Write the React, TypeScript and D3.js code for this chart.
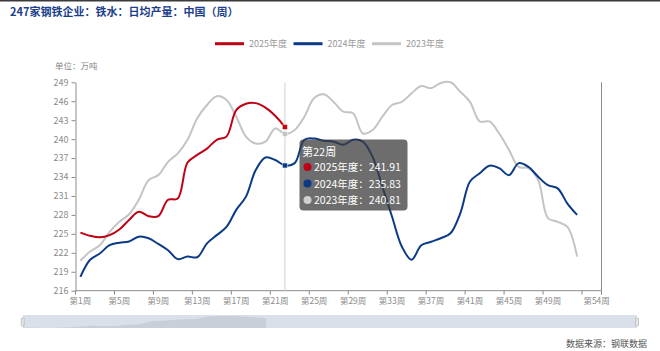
import * as d3 from "d3";
import { useEffect, useRef } from "react";

const categories = d3.range(1, 55).map((i) => `第${i}周`);
const tickLabels = ["第1周", "第5周", "第9周", "第13周", "第17周", "第21周", "第25周", "第29周", "第33周", "第37周", "第41周", "第45周", "第49周", "第54周"];
const yTicks = [216, 219, 222, 225, 228, 231, 234, 237, 240, 243, 246, 249];

const s2025 = [225.2, 224.7, 224.45, 224.8, 225.7, 227.2, 228.5, 227.8, 227.8, 230.4, 230.6, 236.3, 237.5, 238.5, 239.9, 240.4, 244.6, 245.6, 245.7, 245.0, 243.7, 241.91];
const s2024 = [218.2, 220.9, 221.9, 223.2, 223.6, 223.8, 224.55, 224.3, 223.4, 222.4, 221.0, 221.4, 221.3, 223.5, 224.8, 226.1, 228.8, 230.9, 235.1, 237.1, 236.7, 235.83, 236.2, 239.9, 240.1, 239.75, 239.6, 239.1, 239.9, 239.6, 237.2, 232.5, 227.7, 223.0, 220.9, 223.2, 223.75, 224.3, 225.1, 228.25, 233.3, 234.6, 235.8, 235.4, 234.3, 236.2, 235.6, 234.05, 232.7, 232.2, 229.8, 228.0];
const s2023 = [220.75, 222.2, 223.2, 225.3, 226.9, 228.1, 230.4, 233.5, 234.3, 236.4, 237.75, 239.9, 243.3, 245.4, 246.8, 246.2, 243.55, 240.4, 239.3, 239.6, 241.7, 240.81, 241.45, 243.55, 246.5, 247.1, 245.9, 244.35, 244.1, 240.9, 241.45, 243.55, 245.4, 245.9, 247.25, 248.4, 248.05, 248.9, 249.0, 247.5, 245.9, 242.8, 242.8, 240.9, 238.3, 235.6, 235.4, 233.5, 227.5, 226.9, 226.1, 221.4];

const seriesNames = ["2025年度", "2024年度", "2023年度"];
const seriesColors = ["#c00014", "#0b3a86", "#c4c4c4"];
const seriesData = [s2025, s2024, s2023];
const hoverIndex = 21;

const FONT = '"Noto Sans CJK SC", "Noto Sans", sans-serif';

function createChart(el: SVGSVGElement) {
  const svg = d3.select(el);
  svg.selectAll("*").remove();

  const x0 = 75.5, x1 = 601.5, yTop = 82.3, yBot = 290.7;
  const xScale = d3.scaleBand().domain(categories).range([x0, x1]).padding(0);
  const bw = xScale.bandwidth();
  const cx = (i: number) => (xScale(categories[i]) as number) + bw / 2;
  const yScale = d3.scaleLinear().domain([216, 249]).range([yBot, yTop]);

  svg.append("rect").attr("width", 660).attr("height", 351).attr("fill", "#fff");
  svg.append("rect").attr("width", 660).attr("height", 1.5).attr("fill", "#3a3a3a");

  // title
  svg
    .append("text")
    .attr("x", 10)
    .attr("y", 15.5)
    .attr("fill", "#1c3f8c")
    .style("font-family", FONT)
    .style("font-weight", "bold")
    .style("font-size", "11px")
    .text("247家钢铁企业：铁水：日均产量：中国（周）");

  // legend
  const legendX = [215, 293.5, 372];
  seriesNames.forEach((name, i) => {
    const g = svg.append("g");
    g.append("line")
      .attr("x1", legendX[i])
      .attr("x2", legendX[i] + 29)
      .attr("y1", 43.7)
      .attr("y2", 43.7)
      .attr("stroke", seriesColors[i])
      .attr("stroke-width", 3);
    g.append("text")
      .attr("x", legendX[i] + 34)
      .attr("y", 47)
      .attr("fill", "#999")
      .style("font-family", FONT)
      .style("font-size", "9px")
      .text(name);
  });

  svg
    .append("text")
    .attr("x", 55)
    .attr("y", 69)
    .attr("fill", "#888")
    .style("font-family", FONT)
    .style("font-size", "8.5px")
    .text("单位：万吨");

  // y axis
  const yAxis = svg
    .append("g")
    .attr("transform", `translate(${x0},0)`)
    .call(d3.axisLeft(yScale).tickValues(yTicks).tickSize(4).tickSizeOuter(0).tickPadding(3));
  yAxis.selectAll("path, line").attr("stroke", "#8c8c8c");
  yAxis
    .selectAll("text")
    .attr("fill", "#8c8c8c")
    .style("font-family", FONT)
    .style("font-size", "9px");

  // right border line
  svg
    .append("line")
    .attr("x1", x1)
    .attr("x2", x1)
    .attr("y1", yTop)
    .attr("y2", yBot)
    .attr("stroke", "#8c8c8c");

  // x axis
  svg
    .append("line")
    .attr("x1", x0)
    .attr("x2", x1)
    .attr("y1", yBot)
    .attr("y2", yBot)
    .attr("stroke", "#8c8c8c");
  const tickIdx = d3.range(0, 53, 4);
  const tickXs = tickIdx.map((i) => xScale(categories[i]) as number).concat([x1]);
  svg
    .append("g")
    .selectAll("line")
    .data(tickXs)
    .enter()
    .append("line")
    .attr("x1", (d) => d)
    .attr("x2", (d) => d)
    .attr("y1", yBot)
    .attr("y2", yBot + 4)
    .attr("stroke", "#8c8c8c");
  svg
    .append("g")
    .selectAll("text")
    .data(tickLabels)
    .enter()
    .append("text")
    .attr("x", (d) => cx(categories.indexOf(d)))
    .attr("y", yBot + 13)
    .attr("text-anchor", "middle")
    .attr("fill", "#8c8c8c")
    .style("font-family", FONT)
    .style("font-size", "8.5px")
    .text((d) => d);

  // crosshair
  svg
    .append("line")
    .attr("x1", cx(hoverIndex))
    .attr("x2", cx(hoverIndex))
    .attr("y1", yTop)
    .attr("y2", yBot)
    .attr("stroke", "#d0d0d0")
    .attr("stroke-width", 1);

  const line = d3
    .line<number>()
    .x((d, i) => cx(i))
    .y((d) => yScale(d))
    .curve(d3.curveCatmullRom.alpha(0.5));

  [2, 1, 0].forEach((k) => {
    svg
      .append("path")
      .attr("d", line(seriesData[k]) as string)
      .attr("fill", "none")
      .attr("stroke", seriesColors[k])
      .attr("stroke-width", 2);
  });

  // hover markers
  [2, 1, 0].forEach((k) => {
    svg
      .append("rect")
      .attr("x", cx(hoverIndex) - 2.5)
      .attr("y", yScale(seriesData[k][hoverIndex]) - 2.5)
      .attr("width", 5)
      .attr("height", 5)
      .attr("rx", 1)
      .attr("fill", seriesColors[k])
      .attr("stroke", "#fff")
      .attr("stroke-width", 0.5);
  });

  // tooltip
  const tip = svg.append("g");
  tip
    .append("rect")
    .attr("x", 299.5)
    .attr("y", 139.5)
    .attr("width", 108)
    .attr("height", 71)
    .attr("rx", 4)
    .attr("fill", "rgba(60,60,60,0.75)");
  tip
    .append("text")
    .attr("x", 302)
    .attr("y", 156)
    .attr("fill", "#fff")
    .style("font-family", FONT)
    .style("font-size", "11px")
    .text(categories[hoverIndex]);
  const rowY = [167, 183.5, 200];
  seriesNames.forEach((name, i) => {
    tip
      .append("circle")
      .attr("cx", 307.5)
      .attr("cy", rowY[i])
      .attr("r", 4)
      .attr("fill", i === 2 ? "#d0d0d0" : seriesColors[i]);
    tip
      .append("text")
      .attr("x", 314)
      .attr("y", rowY[i] + 4)
      .attr("fill", "#fff")
      .style("font-family", FONT)
      .style("font-size", "10.5px")
      .text(`${name}：${seriesData[i][hoverIndex].toFixed(2)}`);
  });

  // data zoom slider
  const sx0 = 22.7, sx1 = 637, sy0 = 315, sy1 = 328;
  svg
    .append("rect")
    .attr("x", sx0)
    .attr("y", sy0)
    .attr("width", sx1 - sx0)
    .attr("height", sy1 - sy0)
    .attr("fill", "#dae0ea");
  const shX = d3.scaleLinear().domain([0, categories.length - 1]).range([sx0, sx1]);
  const shY = d3
    .scaleLinear()
    .domain(d3.extent(s2025) as [number, number])
    .range([sy1, sy0 + 1]);
  const shadow = d3
    .area<number>()
    .x((d, i) => shX(i))
    .y0(sy1)
    .y1((d) => shY(d));
  svg
    .append("path")
    .attr("d", shadow(s2025) as string)
    .attr("fill", "#c9cfd8");
  [sx0, sx1].forEach((hx) => {
    svg
      .append("rect")
      .attr("x", hx - 1.5)
      .attr("y", 318)
      .attr("width", 3)
      .attr("height", 8)
      .attr("rx", 1)
      .attr("fill", "#e6e6e6")
      .attr("stroke", "#a8a8a8")
      .attr("stroke-width", 0.6);
  });

  svg
    .append("text")
    .attr("x", 647)
    .attr("y", 346.5)
    .attr("text-anchor", "end")
    .attr("fill", "#555")
    .style("font-family", FONT)
    .style("font-size", "9px")
    .text("数据来源：钢联数据");
}

export default function App() {
  const ref = useRef<SVGSVGElement>(null);
  useEffect(() => {
    if (ref.current) createChart(ref.current);
  }, []);
  return (
    <div style={{ position: "fixed", top: 0, left: 0 }}>
      <svg ref={ref} width={660} height={351} style={{ display: "block" }}></svg>
    </div>
  );
}
